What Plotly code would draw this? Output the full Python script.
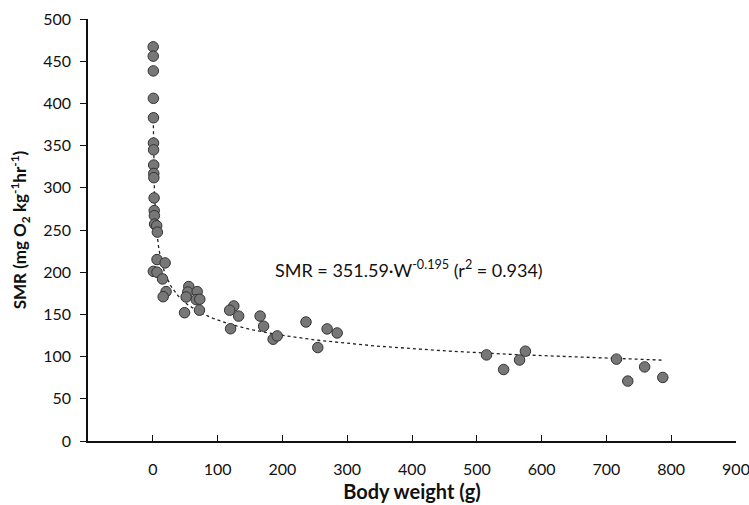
import numpy as np
import plotly.graph_objects as go

# Body weight (g) and SMR (mg O2 kg-1 hr-1)
weight = [0.6, 0.7, 0.8, 0.9, 1.0, 1.1, 1.2, 1.4, 1.5, 1.6, 2.0, 2.2, 2.4, 2.8, 6.0, 7.0,
          6.5, 19, 0.8, 6.5, 15, 20.5, 16,
          55.5, 54, 68.5, 51.5, 67, 72.5, 49, 72,
          125, 118.6, 132.5, 120, 165.6, 171, 185.7, 192, 236.4, 254.6, 269, 284.5,
          515, 541.4, 566, 575, 715.5, 733, 759, 787]
smr = [467, 456, 438.5, 406, 383, 353, 345, 327, 317, 312, 288, 273, 267, 257, 255, 247.5,
       215, 211, 201, 200, 192, 177, 171,
       183, 176.5, 177, 170.6, 167.5, 168, 152, 155,
       160, 155, 148, 133, 148, 136, 120.6, 124.5, 141, 110.7, 132.8, 128,
       102, 84.7, 96, 106.4, 97, 71, 87.8, 75.3]

# Power-law trend line shown on the chart
coef_a = 351.59
coef_b = -0.195
x_ticks = [0, 100, 200, 300, 400, 500, 600, 700, 800, 900]
y_ticks = [0, 50, 100, 150, 200, 250, 300, 350, 400, 450, 500]

xfit = np.concatenate([np.linspace(min(weight), 20, 400), np.linspace(20, max(weight), 400)])
yfit = coef_a * xfit ** coef_b

font_family = "Lato, 'Open Sans', sans-serif"

fig = go.Figure()
fig.add_trace(go.Scatter(x=xfit, y=yfit, mode="lines",
                         line=dict(color="#222222", width=1.3, dash="dot"),
                         hoverinfo="skip", showlegend=False))
fig.add_trace(go.Scatter(x=weight, y=smr, mode="markers",
                         marker=dict(size=10.5, color="#777777",
                                     line=dict(color="#333333", width=1)),
                         showlegend=False))

fig.add_annotation(x=0.285, y=204, xref="paper", yref="y",
                   text="SMR = 351.59·W<sup>-0.195</sup> (r<sup>2</sup> = 0.934)",
                   showarrow=False, xanchor="left", yanchor="middle",
                   font=dict(size=18, color="#111111", family=font_family))

fig.update_layout(
    width=749, height=505,
    margin=dict(l=88, r=13, t=19, b=64),
    paper_bgcolor="white", plot_bgcolor="white",
    font=dict(family=font_family, size=16, color="#111111"),
    xaxis=dict(range=[-100, 900], tickvals=x_ticks, ticks="inside", ticklen=6,
               tickcolor="#111111", showline=True, linecolor="#111111", linewidth=1.5,
               showgrid=False, zeroline=False, mirror=False, automargin=False,
               ticklabelstandoff=13, ticklabeloverflow="allow",
               tickfont=dict(size=16),
               title=dict(text="<b>Body weight (g)</b>", font=dict(size=20), standoff=8)),
    yaxis=dict(range=[0, 500], tickvals=y_ticks, ticks="outside", ticklen=6,
               tickcolor="#111111", showline=True, linecolor="#111111", linewidth=1.5,
               showgrid=False, zeroline=False, automargin=False,
               ticklabelstandoff=6, ticklabeloverflow="allow",
               tickfont=dict(size=16),
               title=dict(text="<b>SMR (mg O<sub>2</sub> kg<sup>-1</sup>hr<sup>-1</sup>)</b>",
                          font=dict(size=17), standoff=12)),
)

fig.write_html("out.html", config={"displayModeBar": False},
               post_script="document.body.style.margin='0';")
